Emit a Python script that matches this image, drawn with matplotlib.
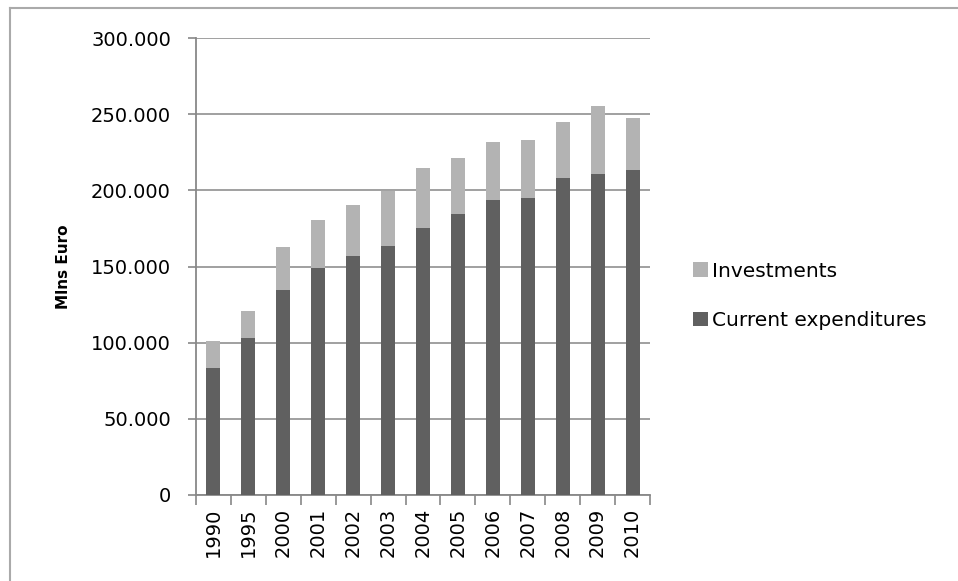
import matplotlib.pyplot as plt
from matplotlib.lines import Line2D
from matplotlib.ticker import FuncFormatter

years = ['1990', '1995', '2000', '2001', '2002', '2003', '2004',
         '2005', '2006', '2007', '2008', '2009', '2010']
current = [83200, 102900, 134500, 148700, 156800, 163400, 175200,
           184200, 193600, 194900, 208100, 210400, 213300]
totals = [101200, 121100, 163100, 180200, 190700, 199300, 214400,
          221000, 231700, 232800, 244600, 255400, 247200]
investments = [t - c for t, c in zip(totals, current)]

plt.rcParams['font.family'] = ['DejaVu Sans']

fig = plt.figure(figsize=(9.58, 5.81), dpi=100)
ax = fig.add_axes([196 / 958, 1 - 495 / 581, (650 - 196) / 958, (495 - 38) / 581])

x = range(len(years))
ax.bar(x, current, width=0.4, color='#606060', label='Current expenditures', zorder=3)
ax.bar(x, investments, bottom=current, width=0.4, color='#b3b3b3',
       label='Investments', zorder=3)

ax.set_xlim(-0.5, len(years) - 0.5)
ax.set_ylim(0, 300000)
ax.set_yticks(range(0, 300001, 50000))
ax.yaxis.set_major_formatter(FuncFormatter(
    lambda v, p: '0' if v == 0 else f'{int(v):,}'.replace(',', '.')))
ax.grid(axis='y', color='#999999', linewidth=1.3, zorder=0)

ax.set_xticks(x)
ax.set_xticklabels(years, rotation=90)
ax.set_xticks([i - 0.5 for i in range(len(years) + 1)], minor=True)
ax.tick_params(axis='x', which='major', length=0, pad=9, labelsize=14, colors='black')
ax.tick_params(axis='x', which='minor', length=7, width=1.2, color='#888888')
ax.tick_params(axis='y', length=6, width=1.2, color='#888888', labelsize=14, pad=12)

for s in ['top', 'right']:
    ax.spines[s].set_visible(False)
for s in ['left', 'bottom']:
    ax.spines[s].set_color('#888888')
    ax.spines[s].set_linewidth(1.3)

ax.set_ylabel('Mlns Euro', fontsize=11, fontweight='bold', labelpad=14)

handles, labels = ax.get_legend_handles_labels()
fig.legend(handles[::-1], labels[::-1], loc='center left',
           bbox_to_anchor=(675 / 958, 1 - 296 / 581), frameon=False,
           fontsize=14.5, handlelength=0.75, handleheight=0.75,
           handletextpad=0.2, labelspacing=1.5)

# outer frame of the chart area
fig.add_artist(Line2D([10 / 958, 10 / 958], [0, 1 - 8 / 581],
                      transform=fig.transFigure, color='#aaaaaa', linewidth=1.5))
fig.add_artist(Line2D([10 / 958, 1], [1 - 8 / 581, 1 - 8 / 581],
                      transform=fig.transFigure, color='#aaaaaa', linewidth=1.5))

fig.savefig('out.png', dpi=100)
